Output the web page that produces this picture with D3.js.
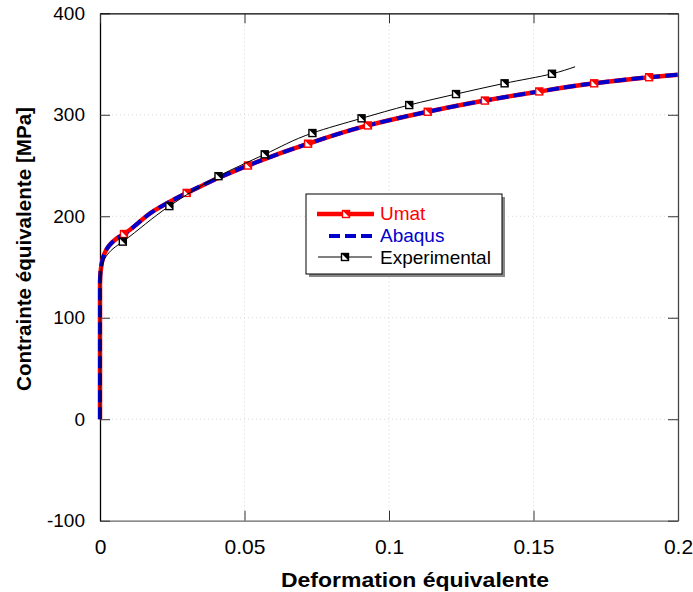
<!DOCTYPE html>
<html>
<head>
<meta charset="utf-8">
<script src="https://cdn.jsdelivr.net/npm/d3@7/dist/d3.min.js"></script>
<style>
  html, body { margin: 0; padding: 0; background: #fff; }
  svg { display: block; font-family: "Liberation Sans", Arial, sans-serif; }
</style>
</head>
<body>
<svg id="chart" width="693" height="592"></svg>
<script>
// ---- data ----
const umatStrain = [0, 0, 0.0005, 0.0015, 0.003, 0.0055, 0.0083, 0.019, 0.030, 0.0512, 0.072, 0.0927, 0.1134, 0.1332, 0.152, 0.171, 0.190, 0.2];
const umatStress = [0, 135, 152, 163, 170.5, 177.5, 182.5, 206, 223, 250, 271.5, 289.5, 303, 314, 323, 331, 337, 339.5];
const umatMarkStrain = [0.0083, 0.030, 0.0512, 0.072, 0.0927, 0.1134, 0.1332, 0.152, 0.171, 0.190];
const umatMarkStress = [182.5, 223, 250, 271.5, 289.5, 303, 314, 323, 331, 337];

const abaqusStrain = [0, 0, 0.0005, 0.0015, 0.003, 0.0055, 0.0083, 0.019, 0.030, 0.0512, 0.072, 0.0927, 0.1134, 0.1332, 0.152, 0.171, 0.190, 0.2];
const abaqusStress = [0, 135, 152, 163, 170.5, 177.5, 182.5, 206, 223, 250, 271.5, 289.5, 303, 314, 323, 331, 337, 339.5];

const expStrain = [0, 0, 0.0006, 0.002, 0.0045, 0.0079, 0.024, 0.041, 0.057, 0.0735, 0.0905, 0.107, 0.1232, 0.140, 0.1564, 0.1644];
const expStress = [0, 135, 150, 160, 168, 175, 210, 239.5, 261, 282, 296.5, 309.6, 320.4, 331, 340.4, 347.3];
const expMarkStrain = [0.0079, 0.024, 0.041, 0.057, 0.0735, 0.0905, 0.107, 0.1232, 0.140, 0.1564];
const expMarkStress = [175, 210, 239.5, 261, 282, 296.5, 309.6, 320.4, 331, 340.4];

const xTicks = [0, 0.05, 0.1, 0.15, 0.2];
const xTickLabels = ["0", "0.05", "0.1", "0.15", "0.2"];
const yTicks = [-100, 0, 100, 200, 300, 400];
const yTickLabels = ["-100", "0", "100", "200", "300", "400"];

const seriesNames = ["Umat", "Abaqus", "Experimental"];
const xTitle = "Deformation équivalente";
const yTitle = "Contrainte équivalente [MPa]";

// ---- layout ----
const L = 100, R = 678, T = 13.3, B = 520.7;
const RED = "#ff0000", BLUE = "#0000cc";

const svg = d3.select("#chart");
const x = d3.scaleLinear().domain([0, 0.2]).range([L, R]);
const y = d3.scaleLinear().domain([-100, 400]).range([B, T]);

const zip = (a, b) => a.map((v, i) => [v, b[i]]);

// grid
const grid = svg.append("g");
grid.selectAll("line.gx").data(xTicks.slice(1, -1)).join("line")
  .attr("x1", d => x(d)).attr("x2", d => x(d)).attr("y1", T).attr("y2", B)
  .attr("stroke", "#d8d8d8").attr("stroke-width", 1).attr("stroke-dasharray", "1,3");
grid.selectAll("line.gy").data(yTicks.slice(1, -1)).join("line")
  .attr("x1", L).attr("x2", R).attr("y1", d => y(d)).attr("y2", d => y(d))
  .attr("stroke", "#d8d8d8").attr("stroke-width", 1).attr("stroke-dasharray", "1,3");

// axes (ticks inward)
const axB = d3.axisBottom(x).tickValues(xTicks).tickFormat((d, i) => xTickLabels[i]).tickSizeInner(-10).tickSizeOuter(0).tickPadding(18);
const axL = d3.axisLeft(y).tickValues(yTicks).tickFormat((d, i) => yTickLabels[i]).tickSizeInner(-10).tickSizeOuter(0).tickPadding(15);
const axT = d3.axisTop(x).tickValues(xTicks).tickFormat("").tickSizeInner(-10).tickSizeOuter(0);
const axR = d3.axisRight(y).tickValues(yTicks).tickFormat("").tickSizeInner(-10).tickSizeOuter(0);

function styleAxis(g, col, fs) {
  g.select(".domain").attr("stroke", col).attr("stroke-width", 1.3);
  g.selectAll(".tick line").attr("stroke", "#333").attr("stroke-width", 1);
  g.selectAll(".tick text").attr("font-size", fs).attr("fill", "#000")
    .attr("font-family", "'Liberation Sans', Arial, sans-serif");
}
svg.append("g").attr("transform", `translate(0,${B})`).call(axB).call(g => styleAxis(g, "#666", 21));
svg.append("g").attr("transform", `translate(${L},0)`).call(axL).call(g => styleAxis(g, "#000", 19));
svg.append("g").attr("transform", `translate(0,${T})`).call(axT).call(g => styleAxis(g, "#000", 19));
svg.append("g").attr("transform", `translate(${R},0)`).call(axR).call(g => styleAxis(g, "#444", 19));

// titles
svg.append("text").attr("x", 415).attr("y", 587).attr("text-anchor", "middle")
  .attr("font-size", 21).attr("font-weight", "bold")
  .attr("textLength", 268).attr("lengthAdjust", "spacingAndGlyphs").text(xTitle);
svg.append("text").attr("transform", `translate(31,${(107 + 391) / 2}) rotate(-90)`).attr("text-anchor", "middle")
  .attr("font-size", 20.5).attr("font-weight", "bold")
  .attr("textLength", 284).attr("lengthAdjust", "spacingAndGlyphs").text(yTitle);

// lines
const line = d3.line().x(d => x(d[0])).y(d => y(d[1])).curve(d3.curveMonotoneY);
const plot = svg.append("g");
plot.append("path").datum(zip(umatStrain, umatStress)).attr("d", line)
  .attr("fill", "none").attr("stroke", RED).attr("stroke-width", 4.5);
plot.append("path").datum(zip(abaqusStrain, abaqusStress)).attr("d", line)
  .attr("fill", "none").attr("stroke", BLUE).attr("stroke-width", 4).attr("stroke-dasharray", "12,5");

function marker(g, cx, cy, col) {
  const s = 7;
  const m = g.append("g").attr("transform", `translate(${cx},${cy})`);
  m.append("rect").attr("x", -s / 2).attr("y", -s / 2).attr("width", s).attr("height", s)
    .attr("fill", "#fff").attr("stroke", col).attr("stroke-width", 1.4);
  m.append("path").attr("d", `M${-s/2},${-s/2}L${s/2},${-s/2}L${s/2},${s/2}Z`).attr("fill", col);
}
zip(umatMarkStrain, umatMarkStress).forEach(d => marker(plot, x(d[0]), y(d[1]), RED));

plot.append("path").datum(zip(expStrain, expStress)).attr("d", line)
  .attr("fill", "none").attr("stroke", "#000").attr("stroke-width", 1);
zip(expMarkStrain, expMarkStress).forEach(d => marker(plot, x(d[0]), y(d[1]), "#000"));

// legend
const lg = svg.append("g");
lg.append("rect").attr("x", 309).attr("y", 197).attr("width", 196).attr("height", 80).attr("fill", "#888");
lg.append("rect").attr("x", 306).attr("y", 194).attr("width", 196).attr("height", 80)
  .attr("fill", "#fff").attr("stroke", "#000").attr("stroke-width", 1);
lg.append("line").attr("x1", 317).attr("x2", 374).attr("y1", 214).attr("y2", 214)
  .attr("stroke", RED).attr("stroke-width", 4.5);
marker(lg, 346, 214, RED);
lg.append("line").attr("x1", 329).attr("x2", 372).attr("y1", 236).attr("y2", 236)
  .attr("stroke", BLUE).attr("stroke-width", 4).attr("stroke-dasharray", "11,5");
lg.append("line").attr("x1", 318).attr("x2", 372).attr("y1", 257).attr("y2", 257)
  .attr("stroke", "#000").attr("stroke-width", 1);
marker(lg, 345, 257, "#000");
const legCols = [RED, BLUE, "#000"];
const legY = [220, 242, 264];
seriesNames.forEach((n, i) => {
  lg.append("text").attr("x", 380).attr("y", legY[i]).attr("font-size", 19).attr("fill", legCols[i]).text(n);
});
</script>
</body>
</html>
